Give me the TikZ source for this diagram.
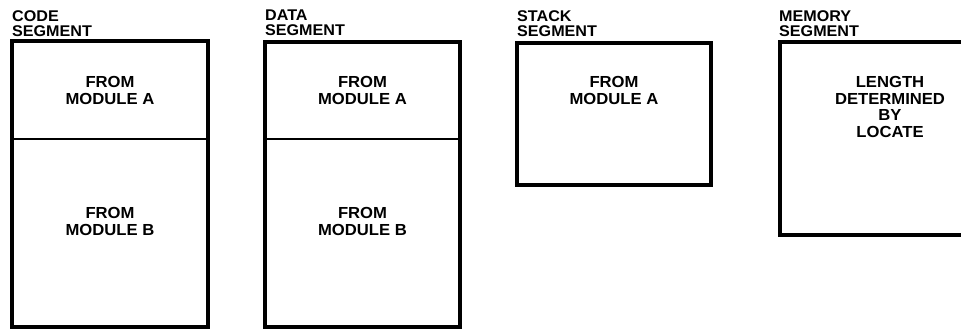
\documentclass[tikz,border=0pt]{standalone}
\usepackage{fontspec}
\setmainfont{Liberation Sans}[FakeStretch=1.04]
\begin{document}
\begin{tikzpicture}[x=1pt,y=-1pt,
  segbox/.style={draw=black,line width=4.5pt,fill=white},
  divider/.style={draw=black,line width=2pt},
  lbl/.style={anchor=north west,inner sep=0pt,align=left,font=\bfseries\fontsize{15.5}{15}\selectfont},
  txt/.style={anchor=center,inner sep=0pt,align=center,font=\bfseries\fontsize{16}{16.5}\selectfont}]
\useasboundingbox (0,0) rectangle (961,329);
\clip (0,0) rectangle (961,329);
% labels
\node[lbl] (lcode) at (12,10) {CODE\\SEGMENT};
\node[lbl] (ldata) at (265,10) {DATA\\SEGMENT};
\node[lbl] (lstack) at (517,10) {STACK\\SEGMENT};
\node[lbl] (lmem) at (779,10) {MEMORY\\SEGMENT};
% boxes
\draw[segbox] (12,41) rectangle (208,327);
\draw[divider] (12,139) -- (208,139);
\draw[segbox] (265,42) rectangle (460,327);
\draw[divider] (265,139) -- (460,139);
\draw[segbox] (517,43) rectangle (711,185);
\draw[segbox] (780,42) rectangle (1000,235);
% texts
\node[txt] (ca) at (110,90.5) {FROM\\MODULE A};
\node[txt] (cb) at (110,221.5) {FROM\\MODULE B};
\node[txt] (da) at (362.5,90.5) {FROM\\MODULE A};
\node[txt] (db) at (362.5,221.5) {FROM\\MODULE B};
\node[txt] (sa) at (614,90.5) {FROM\\MODULE A};
\node[txt] (ma) at (890,107) {LENGTH\\DETERMINED\\BY\\LOCATE};
\end{tikzpicture}
\end{document}
